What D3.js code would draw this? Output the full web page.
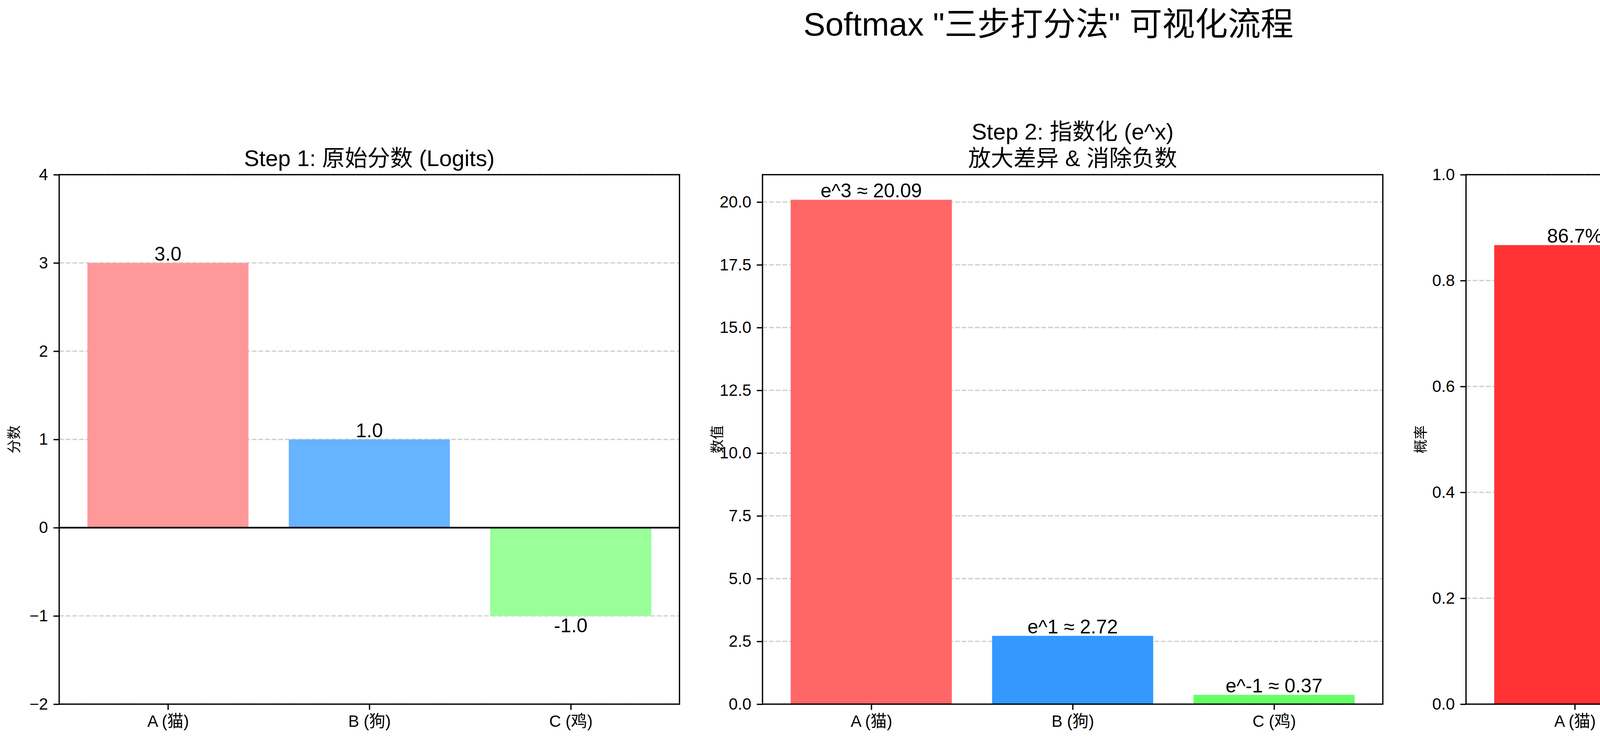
<!DOCTYPE html>
<html>
<head>
<meta charset="utf-8">
<script src="https://cdn.jsdelivr.net/npm/d3@7"></script>
<style>
body { margin: 0; background: #fff; }
text { font-family: "Liberation Sans", Arial, "Noto Sans CJK SC", sans-serif; }
</style>
</head>
<body>
<svg id="chart" width="5369" height="1904"></svg>
<script>
// data
const categories = ["A (猫)", "B (狗)", "C (鸡)"]
const logits = [3.0, 1.0, -1.0]
const expValues = [20.09, 2.72, 0.37]
const probs = [0.867, 0.117, 0.016]
const logitLabels = ["3.0", "1.0", "-1.0"]
const expLabels = ["e^3 ≈ 20.09", "e^1 ≈ 2.72", "e^-1 ≈ 0.37"]
const probLabels = ["86.7%", "11.7%", "1.6%"]

const panels = [
  { title: ["Step 1: 原始分数 (Logits)"], ylabel: "分数", values: logits, labels: logitLabels,
    colors: ["#ff9999", "#66b3ff", "#99ff99"], domain: [-2, 4], ticks: [-2, -1, 0, 1, 2, 3, 4], fmt: d3.format("d"), zero: true, x0: 151.5 },
  { title: ["Step 2: 指数化 (e^x)", "放大差异 & 消除负数"], ylabel: "数值", values: expValues, labels: expLabels,
    colors: ["#ff6666", "#3399ff", "#66ff66"], domain: [0, 21.09], ticks: [0, 2.5, 5, 7.5, 10, 12.5, 15, 17.5, 20], fmt: d3.format(".1f"), x0: 1952 },
  { title: ["Step 3: 归一化概率 (Probability)", "总和 = 100%"], ylabel: "概率", values: probs, labels: probLabels,
    colors: ["#ff3333", "#0077cc", "#33cc33"], domain: [0, 1], ticks: [0, 0.2, 0.4, 0.6, 0.8, 1.0], fmt: d3.format(".1f"), x0: 3753 }
]

const svg = d3.select("#chart")
const plotW = 1588, plotTop = 447, plotBottom = 1802

svg.append("text").attr("x", 2684).attr("y", 62).attr("text-anchor", "middle")
  .attr("dominant-baseline", "central").attr("font-size", 84).text('Softmax "三步打分法" 可视化流程')

panels.forEach(p => {
  const g = svg.append("g").attr("transform", `translate(${p.x0},0)`)
  const x = d3.scaleLinear().domain([-0.54, 2.54]).range([0, plotW])
  const y = d3.scaleLinear().domain(p.domain).range([plotBottom, plotTop])

  // grid
  g.selectAll(".grid").data(p.ticks).enter().append("line")
    .attr("x1", 0).attr("x2", plotW).attr("y1", d => y(d)).attr("y2", d => y(d))
    .attr("stroke", "#b0b0b0").attr("stroke-opacity", 0.6).attr("stroke-width", 3.3)
    .attr("stroke-dasharray", "12,5")

  g.selectAll(".bar").data(p.values).enter().append("rect")
    .attr("x", (d, i) => x(i - 0.4)).attr("width", x(0.8) - x(0))
    .attr("y", d => y(Math.max(0, d))).attr("height", d => Math.abs(y(d) - y(0)))
    .attr("fill", (d, i) => p.colors[i])

  if (p.zero) {
    g.append("line").attr("x1", 0).attr("x2", plotW).attr("y1", y(0)).attr("y2", y(0))
      .attr("stroke", "#000").attr("stroke-width", 4.2)
  }

  g.selectAll(".val").data(p.values).enter().append("text")
    .attr("x", (d, i) => x(i)).attr("y", d => d >= 0 ? y(d) - 6 : y(d) + 6)
    .attr("dominant-baseline", d => d >= 0 ? "auto" : "hanging")
    .attr("text-anchor", "middle").attr("font-size", 50)
    .text((d, i) => p.labels[i])

  const yAxis = d3.axisLeft(y).tickValues(p.ticks).tickFormat(p.fmt).tickSize(14.6).tickPadding(14)
  const ya = g.append("g").call(yAxis)
  const xAxis = d3.axisBottom(x).tickValues([0, 1, 2]).tickFormat(i => categories[i]).tickSize(14.6).tickPadding(14)
  const xa = g.append("g").attr("transform", `translate(0,${plotBottom})`).call(xAxis)
  ;[ya, xa].forEach(a => {
    a.select(".domain").remove()
    a.selectAll("line").attr("stroke-width", 3.3)
    a.selectAll("text").attr("font-size", 41.7).attr("fill", "#000")
      .style("font-family", '"Liberation Sans", Arial, "Noto Sans CJK SC", sans-serif')
  })

  g.append("rect").attr("x", 0).attr("y", plotTop).attr("width", plotW).attr("height", plotBottom - plotTop)
    .attr("fill", "none").attr("stroke", "#000").attr("stroke-width", 3.3)

  g.append("text").attr("transform", `translate(-103,${(plotTop + plotBottom) / 2}) rotate(-90)`)
    .attr("text-anchor", "middle").attr("font-size", 36).text(p.ylabel)

  const lineH = 68
  p.title.forEach((t, i) => {
    g.append("text").attr("x", plotW / 2).attr("y", plotTop - 22 - (p.title.length - 1 - i) * lineH)
      .attr("text-anchor", "middle").attr("font-size", 58).text(t)
  })
})

svg.append("text").attr("x", 5360).attr("y", 1860).attr("text-anchor", "end")
  .attr("font-size", 80).attr("fill", "#ffffff").attr("fill-opacity", 0.75)
  .attr("stroke", "#999").attr("stroke-width", 1.5).attr("stroke-opacity", 0.5)
  .text("CSDN @Clarence Liu")
</script>
</body>
</html>
